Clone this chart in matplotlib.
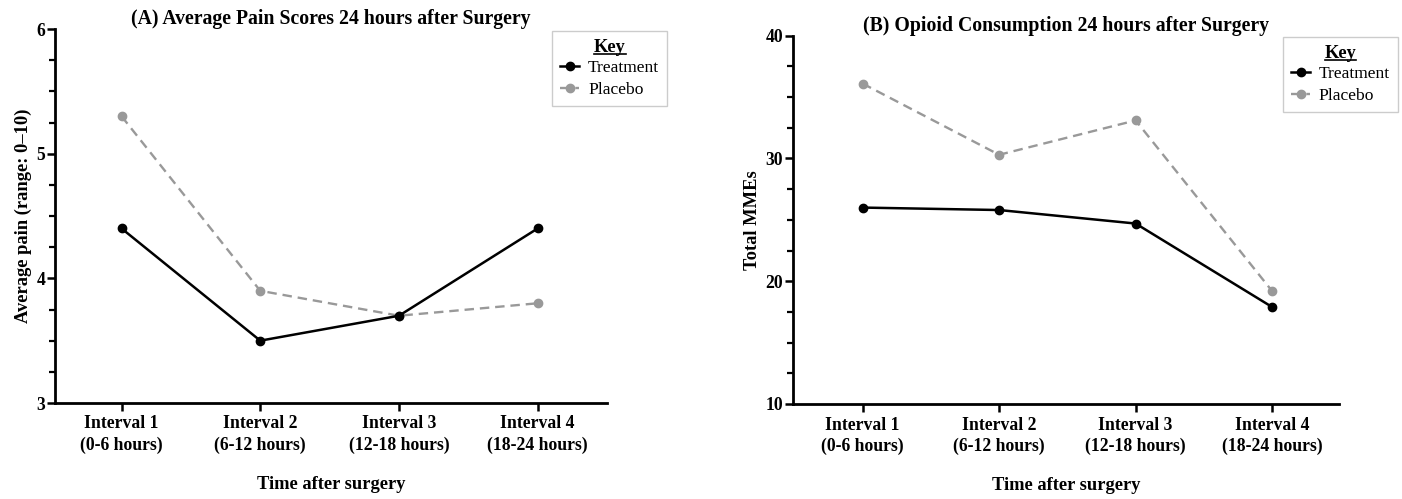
import matplotlib
matplotlib.use("Agg")
import matplotlib.pyplot as plt
from matplotlib.ticker import MultipleLocator
from matplotlib.lines import Line2D

plt.rcParams['font.family'] = ['Liberation Serif', 'DejaVu Serif']

intervals = ["Interval 1\n(0-6 hours)", "Interval 2\n(6-12 hours)",
             "Interval 3\n(12-18 hours)", "Interval 4\n(18-24 hours)"]
pain_treatment = [4.4, 3.5, 3.7, 4.4]
pain_placebo = [5.3, 3.9, 3.7, 3.8]
mme_treatment = [26.0, 25.8, 24.7, 17.9]
mme_placebo = [36.1, 30.3, 33.1, 19.2]

fig = plt.figure(figsize=(14.02, 4.99), dpi=100)
W, H = 1402, 499

def make_ax(l, r, top, bot):
    return fig.add_axes([l / W, 1 - bot / H, (r - l) / W, (bot - top) / H])

axA = make_ax(55, 607, 29, 403)
axB = make_ax(793, 1339, 35.7, 404)

def style(ax, title, ylabel, ylim, major, minor, xl, tpad):
    x = range(len(intervals))
    ax.set_xlim(*xl)
    ax.set_ylim(*ylim)
    ax.yaxis.set_major_locator(MultipleLocator(major))
    ax.yaxis.set_minor_locator(MultipleLocator(minor))
    ax.set_xticks(list(x))
    ax.set_xticklabels(intervals, fontsize=12.7, fontweight='bold', linespacing=1.3)
    for s in ['top', 'right']:
        ax.spines[s].set_visible(False)
    for s in ['left', 'bottom']:
        ax.spines[s].set_linewidth(2)
    ax.tick_params(axis='both', which='major', length=6, width=1.8, labelsize=12.7)
    ax.tick_params(axis='y', which='minor', length=4, width=1.6)
    ax.tick_params(axis='y', which='major', pad=1)
    ax.tick_params(axis='x', which='major', pad=3)
    for lab in ax.get_yticklabels():
        lab.set_fontweight('bold')
    ax.set_title(title, fontsize=14.2, fontweight='bold', pad=tpad)
    ax.set_xlabel("Time after surgery", fontsize=13.3, fontweight='bold', labelpad=16)
    ax.set_ylabel(ylabel, fontsize=13.3, fontweight='bold', labelpad=3)

def plot(ax, t, p, anchor):
    x = range(len(t))
    ax.plot(list(x), p, color='#999999', linestyle=(0, (4, 2.5)), linewidth=1.7,
            marker='o', markersize=6, label='Placebo', zorder=2)
    ax.plot(list(x), t, color='black', linewidth=1.8, marker='o', markersize=6,
            label='Treatment', zorder=3)
    handles, labels = ax.get_legend_handles_labels()
    leg = ax.legend(handles[::-1], labels[::-1], title="Key",
                    loc='upper right', bbox_to_anchor=anchor, borderaxespad=0,
                    fontsize=12.6, title_fontproperties={'size': 13.2, 'weight': 'bold'},
                    handlelength=1.1,
                    handletextpad=0.5, borderpad=0.45, labelspacing=0.3,
                    fancybox=False, edgecolor='#cccccc', framealpha=1)
    leg.get_frame().set_linewidth(1)
    leg._legend_box.sep = 3
    return leg

legs = [plot(axA, pain_treatment, pain_placebo, (1.109, 0.995))]
style(axA, "(A) Average Pain Scores 24 hours after Surgery",
      "Average pain (range: 0–10)", (3, 6), 1, 0.25, (-0.48, 3.5), 3)
legs.append(plot(axB, mme_treatment, mme_placebo, (1.108, 0.9965)))
style(axB, "(B) Opioid Consumption 24 hours after Surgery",
      "Total MMEs", (10, 40), 10, 2.5, (-0.51, 3.49), 3)

fig.canvas.draw()
for leg in legs:
    bb = leg.get_title().get_window_extent()
    y = bb.y0 + 2
    fig.add_artist(Line2D([bb.x0 / W, bb.x1 / W], [y / H, y / H],
                          transform=fig.transFigure, color='black', linewidth=1.2))

fig.savefig("out.png", dpi=100)
